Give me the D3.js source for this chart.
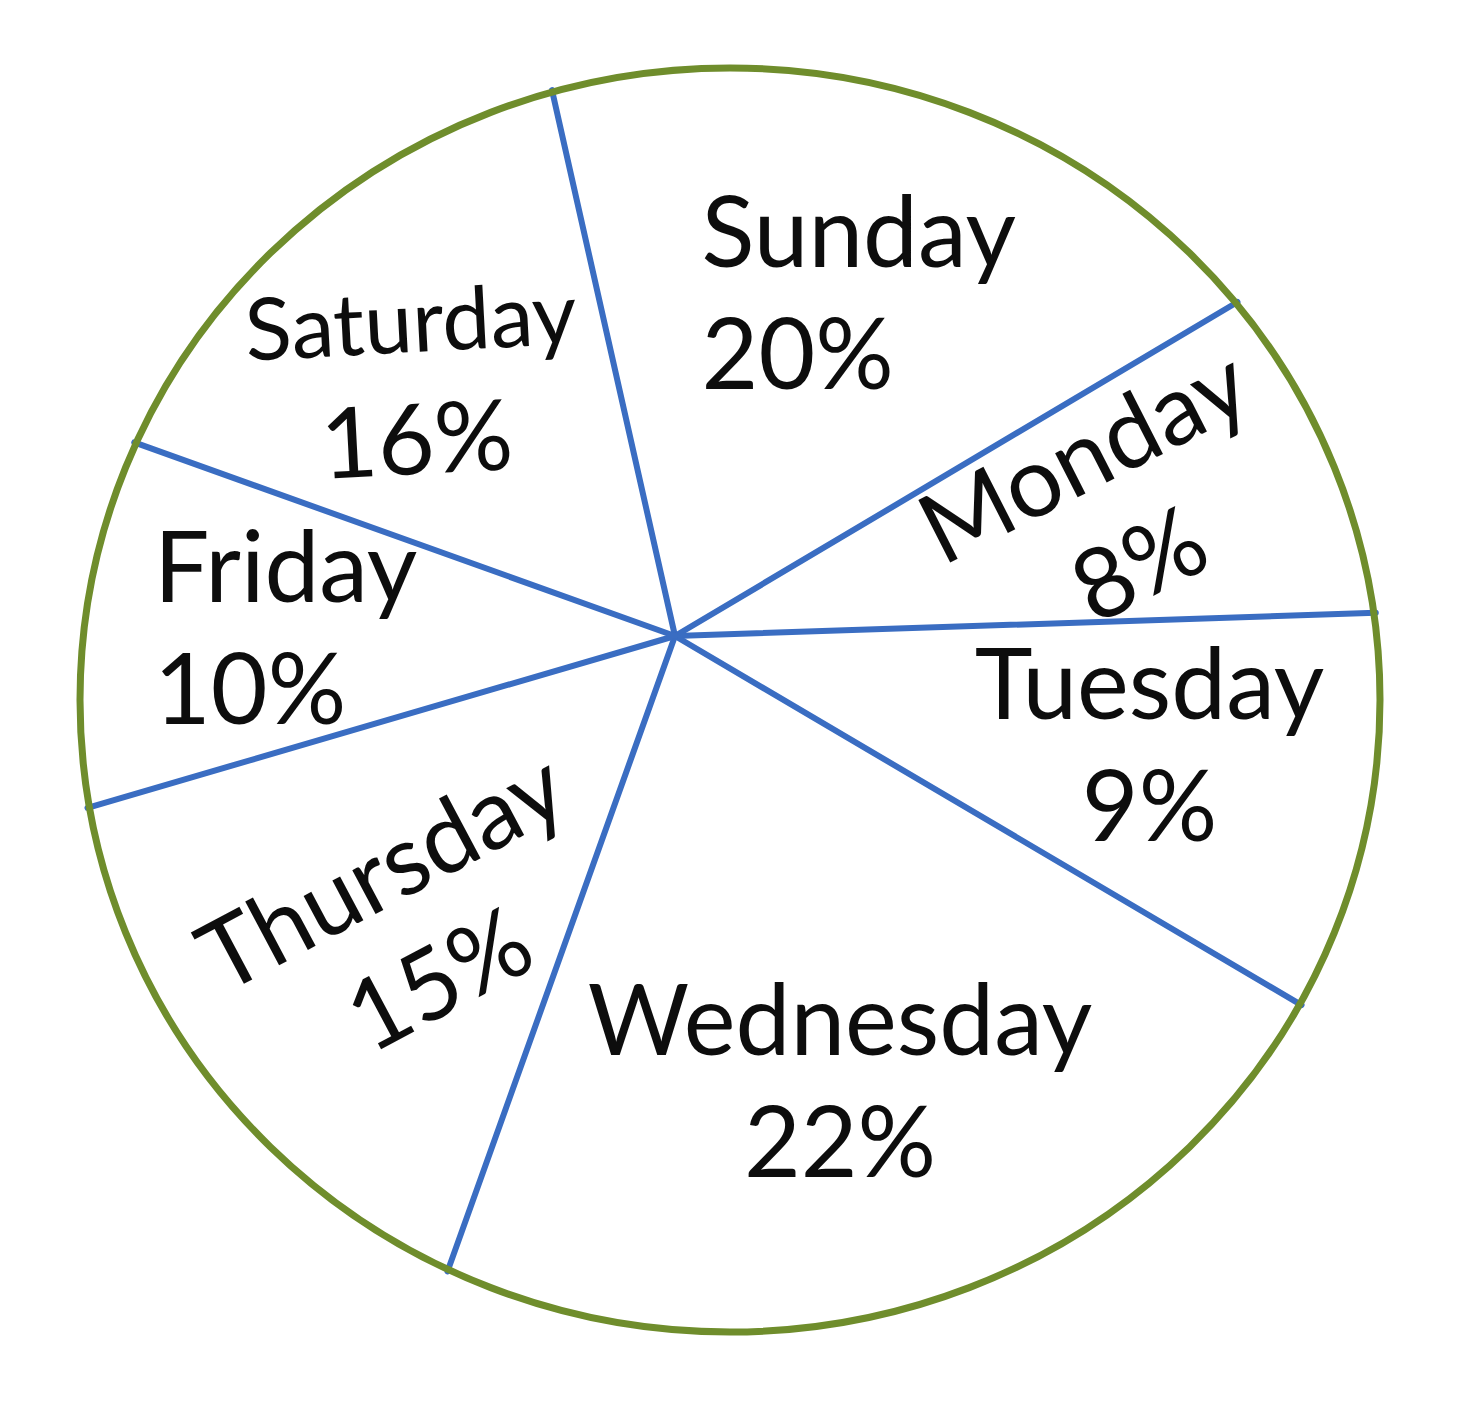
<!DOCTYPE html>
<html>
<head>
<meta charset="utf-8">
<script src="https://cdn.jsdelivr.net/npm/d3@7"></script>
<style>
  html, body { margin: 0; padding: 0; background: #ffffff; }
  svg { display: block; }
</style>
</head>
<body>
<svg id="chart" width="1484" height="1408"></svg>
<script>
// ---- data ----
const categories = ["Sunday", "Monday", "Tuesday", "Wednesday", "Thursday", "Friday", "Saturday"];
const values = [20, 8, 9, 22, 15, 10, 16];
const valueLabels = ["20%", "8%", "9%", "22%", "15%", "10%", "16%"];

// ---- label styling (not data) ----
const labelRotation = [0, -27, 0, 0, -28, 0, -3];
const labelAlign = ["start", "middle", "middle", "middle", "middle", "start", "middle"];
const nameScale = [1, 1, 1, 1, 1, 1, 0.88];
const labelNudge = [[34, 5], [20, -5], [30, -5], [10, 16], [34, 7], [-12, 3], [-26, 8]];

// ---- layout ----
const cx = 730, cy = 700, rx = 650, ry = 632;   // outline ellipse
const hub = [675, 636];                          // where the dividers meet
const startDeg = -12.7;
const labelFrac = 0.64;
const fontSize = 98;
const capH = fontSize * 0.72;
const lineGap = 122;

const svg = d3.select("#chart");

const pie = d3.pie().sort(null).value(d => d)
  .startAngle(startDeg * Math.PI / 180)
  .endAngle(startDeg * Math.PI / 180 + 2 * Math.PI);
const arcs = pie(values);

// distance from hub to ellipse along angle (d3 convention: 0 = up, clockwise)
function rayLen(a) {
  const dx = Math.sin(a), dy = -Math.cos(a);
  const px = hub[0] - cx, py = hub[1] - cy;
  const A = dx * dx / (rx * rx) + dy * dy / (ry * ry);
  const B = 2 * (px * dx / (rx * rx) + py * dy / (ry * ry));
  const C = px * px / (rx * rx) + py * py / (ry * ry) - 1;
  return (-B + Math.sqrt(B * B - 4 * A * C)) / (2 * A);
}
function pointAt(a, t) {
  return [hub[0] + t * Math.sin(a), hub[1] - t * Math.cos(a)];
}

// divider lines
svg.append("g").selectAll("line")
  .data(arcs)
  .join("line")
  .attr("x1", hub[0]).attr("y1", hub[1])
  .attr("x2", d => pointAt(d.startAngle, rayLen(d.startAngle) + 2)[0])
  .attr("y2", d => pointAt(d.startAngle, rayLen(d.startAngle) + 2)[1])
  .attr("stroke", "#3a6dc2")
  .attr("stroke-width", 6)
  .attr("stroke-linecap", "round");

// outline
svg.append("ellipse")
  .attr("cx", cx).attr("cy", cy).attr("rx", rx).attr("ry", ry)
  .attr("fill", "none")
  .attr("stroke", "#6f8d2c")
  .attr("stroke-width", 7);

// labels
const lg = svg.append("g")
  .attr("font-family", "Lato, 'Open Sans', sans-serif")
  .attr("font-size", fontSize)
  .attr("fill", "#0d0d0d");

arcs.forEach((d, i) => {
  const mid = (d.startAngle + d.endAngle) / 2;
  const p = pointAt(mid, labelFrac * rayLen(mid));
  const x = p[0] + labelNudge[i][0], y = p[1] + labelNudge[i][1];
  const g = lg.append("g")
    .attr("transform", `translate(${x},${y}) rotate(${labelRotation[i]})`);
  const y1 = (capH - lineGap) / 2;
  const t1 = g.append("text").attr("text-anchor", "middle")
    .attr("x", 0).attr("y", y1)
    .attr("font-size", fontSize * nameScale[i])
    .text(categories[i]);
  const t2 = g.append("text").attr("text-anchor", "middle")
    .attr("x", 0).attr("y", y1 + lineGap)
    .text(valueLabels[i]);
  if (labelAlign[i] === "start") {
    const w = t1.node().getComputedTextLength();
    t1.attr("text-anchor", "start").attr("x", -w / 2);
    t2.attr("text-anchor", "start").attr("x", -w / 2);
  }
});
</script>
</body>
</html>
